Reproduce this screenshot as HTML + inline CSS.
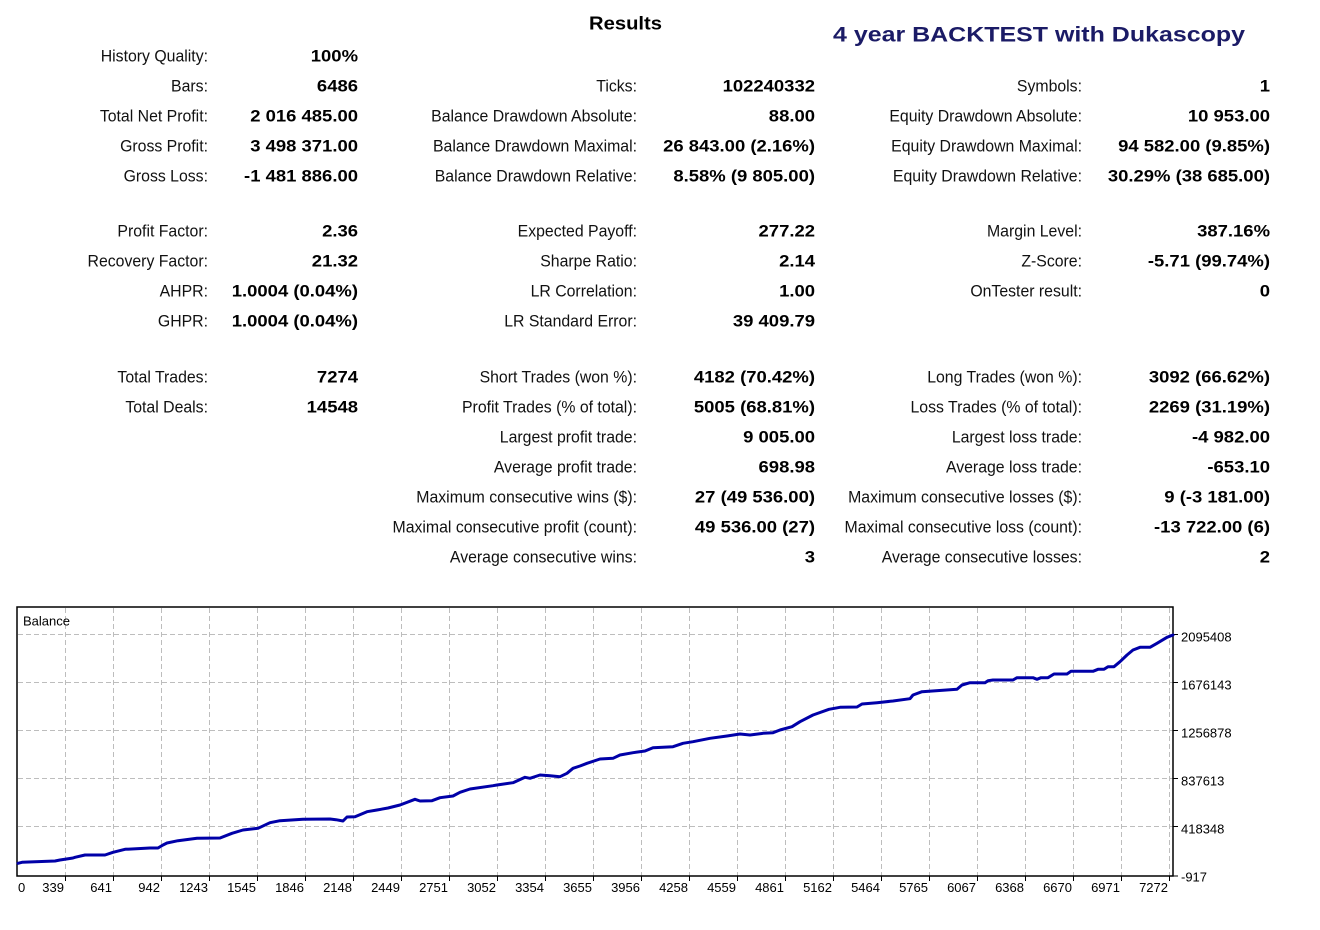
<!DOCTYPE html>
<html>
<head>
<meta charset="utf-8">
<style>
  html,body{margin:0;padding:0;background:#fff;}
  svg{display:block;}
  .lb{font-family:"Liberation Sans",Arial,sans-serif;font-size:16.5px;fill:#111;}
  .vl{font-family:"Liberation Sans",Arial,sans-serif;font-size:16.5px;font-weight:bold;fill:#000;}
  .ax{font-family:"Liberation Sans",Arial,sans-serif;font-size:13px;fill:#000;}
</style>
</head>
<body>
<svg width="1320" height="930" viewBox="0 0 1320 930" xmlns="http://www.w3.org/2000/svg">
  <rect width="1320" height="930" fill="#fff"/>

  <!-- Titles -->
  <text x="589" y="29.5" font-family="Liberation Sans, Arial, sans-serif" font-size="18.5" font-weight="bold" fill="#000" textLength="73" lengthAdjust="spacingAndGlyphs">Results</text>
  <text x="833" y="41.5" font-family="Liberation Sans, Arial, sans-serif" font-size="21.5" font-weight="bold" fill="#1b1b66" textLength="412" lengthAdjust="spacingAndGlyphs">4 year BACKTEST with Dukascopy</text>

  <!-- Column 1 -->
  <g text-anchor="end">
    <text class="lb" transform="translate(208 61.5) scale(0.96 1)">History Quality:</text>
    <text class="vl" transform="translate(358 61.5) scale(1.12 1)">100%</text>
    <text class="lb" transform="translate(208 91.5) scale(0.96 1)">Bars:</text>
    <text class="vl" transform="translate(358 91.5) scale(1.12 1)">6486</text>
    <text class="lb" transform="translate(208 121.5) scale(0.96 1)">Total Net Profit:</text>
    <text class="vl" transform="translate(358 121.5) scale(1.12 1)">2 016 485.00</text>
    <text class="lb" transform="translate(208 151.5) scale(0.96 1)">Gross Profit:</text>
    <text class="vl" transform="translate(358 151.5) scale(1.12 1)">3 498 371.00</text>
    <text class="lb" transform="translate(208 181.5) scale(0.96 1)">Gross Loss:</text>
    <text class="vl" transform="translate(358 181.5) scale(1.12 1)">-1 481 886.00</text>

    <text class="lb" transform="translate(208 236.5) scale(0.96 1)">Profit Factor:</text>
    <text class="vl" transform="translate(358 236.5) scale(1.12 1)">2.36</text>
    <text class="lb" transform="translate(208 266.5) scale(0.96 1)">Recovery Factor:</text>
    <text class="vl" transform="translate(358 266.5) scale(1.12 1)">21.32</text>
    <text class="lb" transform="translate(208 296.5) scale(0.96 1)">AHPR:</text>
    <text class="vl" transform="translate(358 296.5) scale(1.12 1)">1.0004 (0.04%)</text>
    <text class="lb" transform="translate(208 326.5) scale(0.96 1)">GHPR:</text>
    <text class="vl" transform="translate(358 326.5) scale(1.12 1)">1.0004 (0.04%)</text>

    <text class="lb" transform="translate(208 382.5) scale(0.96 1)">Total Trades:</text>
    <text class="vl" transform="translate(358 382.5) scale(1.12 1)">7274</text>
    <text class="lb" transform="translate(208 412.5) scale(0.96 1)">Total Deals:</text>
    <text class="vl" transform="translate(358 412.5) scale(1.12 1)">14548</text>
  </g>

  <!-- Column 2 -->
  <g text-anchor="end">
    <text class="lb" transform="translate(637 91.5) scale(0.96 1)">Ticks:</text>
    <text class="vl" transform="translate(815 91.5) scale(1.12 1)">102240332</text>
    <text class="lb" transform="translate(637 121.5) scale(0.96 1)">Balance Drawdown Absolute:</text>
    <text class="vl" transform="translate(815 121.5) scale(1.12 1)">88.00</text>
    <text class="lb" transform="translate(637 151.5) scale(0.96 1)">Balance Drawdown Maximal:</text>
    <text class="vl" transform="translate(815 151.5) scale(1.12 1)">26 843.00 (2.16%)</text>
    <text class="lb" transform="translate(637 181.5) scale(0.96 1)">Balance Drawdown Relative:</text>
    <text class="vl" transform="translate(815 181.5) scale(1.12 1)">8.58% (9 805.00)</text>

    <text class="lb" transform="translate(637 236.5) scale(0.96 1)">Expected Payoff:</text>
    <text class="vl" transform="translate(815 236.5) scale(1.12 1)">277.22</text>
    <text class="lb" transform="translate(637 266.5) scale(0.96 1)">Sharpe Ratio:</text>
    <text class="vl" transform="translate(815 266.5) scale(1.12 1)">2.14</text>
    <text class="lb" transform="translate(637 296.5) scale(0.96 1)">LR Correlation:</text>
    <text class="vl" transform="translate(815 296.5) scale(1.12 1)">1.00</text>
    <text class="lb" transform="translate(637 326.5) scale(0.96 1)">LR Standard Error:</text>
    <text class="vl" transform="translate(815 326.5) scale(1.12 1)">39 409.79</text>

    <text class="lb" transform="translate(637 382.5) scale(0.96 1)">Short Trades (won %):</text>
    <text class="vl" transform="translate(815 382.5) scale(1.12 1)">4182 (70.42%)</text>
    <text class="lb" transform="translate(637 412.5) scale(0.96 1)">Profit Trades (% of total):</text>
    <text class="vl" transform="translate(815 412.5) scale(1.12 1)">5005 (68.81%)</text>
    <text class="lb" transform="translate(637 442.5) scale(0.96 1)">Largest profit trade:</text>
    <text class="vl" transform="translate(815 442.5) scale(1.12 1)">9 005.00</text>
    <text class="lb" transform="translate(637 472.5) scale(0.96 1)">Average profit trade:</text>
    <text class="vl" transform="translate(815 472.5) scale(1.12 1)">698.98</text>
    <text class="lb" transform="translate(637 502.5) scale(0.96 1)">Maximum consecutive wins ($):</text>
    <text class="vl" transform="translate(815 502.5) scale(1.12 1)">27 (49 536.00)</text>
    <text class="lb" transform="translate(637 532.5) scale(0.96 1)">Maximal consecutive profit (count):</text>
    <text class="vl" transform="translate(815 532.5) scale(1.12 1)">49 536.00 (27)</text>
    <text class="lb" transform="translate(637 562.5) scale(0.96 1)">Average consecutive wins:</text>
    <text class="vl" transform="translate(815 562.5) scale(1.12 1)">3</text>
  </g>

  <!-- Column 3 -->
  <g text-anchor="end">
    <text class="lb" transform="translate(1082 91.5) scale(0.96 1)">Symbols:</text>
    <text class="vl" transform="translate(1270 91.5) scale(1.12 1)">1</text>
    <text class="lb" transform="translate(1082 121.5) scale(0.96 1)">Equity Drawdown Absolute:</text>
    <text class="vl" transform="translate(1270 121.5) scale(1.12 1)">10 953.00</text>
    <text class="lb" transform="translate(1082 151.5) scale(0.96 1)">Equity Drawdown Maximal:</text>
    <text class="vl" transform="translate(1270 151.5) scale(1.12 1)">94 582.00 (9.85%)</text>
    <text class="lb" transform="translate(1082 181.5) scale(0.96 1)">Equity Drawdown Relative:</text>
    <text class="vl" transform="translate(1270 181.5) scale(1.12 1)">30.29% (38 685.00)</text>

    <text class="lb" transform="translate(1082 236.5) scale(0.96 1)">Margin Level:</text>
    <text class="vl" transform="translate(1270 236.5) scale(1.12 1)">387.16%</text>
    <text class="lb" transform="translate(1082 266.5) scale(0.96 1)">Z-Score:</text>
    <text class="vl" transform="translate(1270 266.5) scale(1.12 1)">-5.71 (99.74%)</text>
    <text class="lb" transform="translate(1082 296.5) scale(0.96 1)">OnTester result:</text>
    <text class="vl" transform="translate(1270 296.5) scale(1.12 1)">0</text>

    <text class="lb" transform="translate(1082 382.5) scale(0.96 1)">Long Trades (won %):</text>
    <text class="vl" transform="translate(1270 382.5) scale(1.12 1)">3092 (66.62%)</text>
    <text class="lb" transform="translate(1082 412.5) scale(0.96 1)">Loss Trades (% of total):</text>
    <text class="vl" transform="translate(1270 412.5) scale(1.12 1)">2269 (31.19%)</text>
    <text class="lb" transform="translate(1082 442.5) scale(0.96 1)">Largest loss trade:</text>
    <text class="vl" transform="translate(1270 442.5) scale(1.12 1)">-4 982.00</text>
    <text class="lb" transform="translate(1082 472.5) scale(0.96 1)">Average loss trade:</text>
    <text class="vl" transform="translate(1270 472.5) scale(1.12 1)">-653.10</text>
    <text class="lb" transform="translate(1082 502.5) scale(0.96 1)">Maximum consecutive losses ($):</text>
    <text class="vl" transform="translate(1270 502.5) scale(1.12 1)">9 (-3 181.00)</text>
    <text class="lb" transform="translate(1082 532.5) scale(0.96 1)">Maximal consecutive loss (count):</text>
    <text class="vl" transform="translate(1270 532.5) scale(1.12 1)">-13 722.00 (6)</text>
    <text class="lb" transform="translate(1082 562.5) scale(0.96 1)">Average consecutive losses:</text>
    <text class="vl" transform="translate(1270 562.5) scale(1.12 1)">2</text>
  </g>

  <!-- Chart grid -->
  <g stroke="#bdbdbd" stroke-width="1" stroke-dasharray="5,3" fill="none">
    <path d="M65.5 608V876M113.5 608V876M161.5 608V876M209.5 608V876M257.5 608V876M305.5 608V876M353.5 608V876M401.5 608V876M449.5 608V876M497.5 608V876M545.5 608V876M593.5 608V876M641.5 608V876M689.5 608V876M737.5 608V876M785.5 608V876M833.5 608V876M881.5 608V876M929.5 608V876M977.5 608V876M1025.5 608V876M1073.5 608V876M1121.5 608V876M1169.5 608V876"/>
    <path d="M18 634.5H1173M18 682.5H1173M18 730.5H1173M18 778.5H1173M18 826.5H1173"/>
  </g>

  <!-- Frame -->
  <rect x="17" y="607" width="1156" height="269" fill="none" stroke="#000" stroke-width="1.5"/>

  <!-- Ticks -->
  <g stroke="#000" stroke-width="1">
    <path d="M1173 634.5H1178M1173 682.5H1178M1173 730.5H1178M1173 778.5H1178M1173 826.5H1178M1173 876H1178"/>
    <path d="M65.5 876V881M113.5 876V881M161.5 876V881M209.5 876V881M257.5 876V881M305.5 876V881M353.5 876V881M401.5 876V881M449.5 876V881M497.5 876V881M545.5 876V881M593.5 876V881M641.5 876V881M689.5 876V881M737.5 876V881M785.5 876V881M833.5 876V881M881.5 876V881M929.5 876V881M977.5 876V881M1025.5 876V881M1073.5 876V881M1121.5 876V881M1169.5 876V881"/>
  </g>

  <!-- Balance label -->
  <text class="ax" x="23" y="625.5">Balance</text>

  <!-- Y labels -->
  <text class="ax" x="1181" y="641.5">2095408</text>
  <text class="ax" x="1181" y="689.5">1676143</text>
  <text class="ax" x="1181" y="737.5">1256878</text>
  <text class="ax" x="1181" y="785.5">837613</text>
  <text class="ax" x="1181" y="833.5">418348</text>
  <text class="ax" x="1181" y="881.5">-917</text>

  <!-- X labels -->
  <text class="ax" x="18" y="892">0</text>
  <g text-anchor="end">
    <text class="ax" x="64" y="892">339</text>
    <text class="ax" x="112" y="892">641</text>
    <text class="ax" x="160" y="892">942</text>
    <text class="ax" x="208" y="892">1243</text>
    <text class="ax" x="256" y="892">1545</text>
    <text class="ax" x="304" y="892">1846</text>
    <text class="ax" x="352" y="892">2148</text>
    <text class="ax" x="400" y="892">2449</text>
    <text class="ax" x="448" y="892">2751</text>
    <text class="ax" x="496" y="892">3052</text>
    <text class="ax" x="544" y="892">3354</text>
    <text class="ax" x="592" y="892">3655</text>
    <text class="ax" x="640" y="892">3956</text>
    <text class="ax" x="688" y="892">4258</text>
    <text class="ax" x="736" y="892">4559</text>
    <text class="ax" x="784" y="892">4861</text>
    <text class="ax" x="832" y="892">5162</text>
    <text class="ax" x="880" y="892">5464</text>
    <text class="ax" x="928" y="892">5765</text>
    <text class="ax" x="976" y="892">6067</text>
    <text class="ax" x="1024" y="892">6368</text>
    <text class="ax" x="1072" y="892">6670</text>
    <text class="ax" x="1120" y="892">6971</text>
    <text class="ax" x="1168" y="892">7272</text>
  </g>

  <!-- Balance line -->
  <polyline fill="none" stroke="#0000a8" stroke-width="3" stroke-linejoin="round" stroke-linecap="round"
    points="18,863.3 22,862.3 55,861 60,860 73,858 75,857.3 85,855 105,855 113,852.3 125,849.3 150,848 158,848 163,845 167,843 178,840.7 197,838.3 220,838 232,833.3 243,830 258,828.3 270,822.7 280,820.7 303,819.3 330,819 336,819.7 343,821 347,817 355,816.7 367,811.7 377,810 388,808 400,805 415,799.3 420,801 432,800.7 440,797.7 453,796 460,792.3 470,789 493,785.7 497,785 513,782.7 525,777.3 530,778.3 540,775 550,775.7 560,776.7 567,773.3 573,768.3 580,766 587,763.3 600,759 613,758.3 620,755 633,752.7 645,751 653,747.7 673,746.7 683,743.3 693,741.7 710,738.3 727,736 740,734 750,735 763,733.3 773,732.7 780,730 792,726.7 800,721.7 813,715 829,709.3 840,707.3 857,707 862,704 877,702.7 893,701 910,698.7 913,695 922,691.7 957,689.3 962,685 970,682.7 985,682.7 988,680.7 993,680 1013,680 1017,677.7 1033,677.7 1037,679.3 1041,677.7 1048,677.7 1054,674 1067,674 1071,671.3 1093,671.3 1098,669.3 1104,669.3 1108,666.7 1114,666.7 1120,661.7 1127,655 1133,650 1140,647.3 1150,647.3 1157,643.3 1167,637.3 1173,635"/>
</svg>
</body>
</html>
